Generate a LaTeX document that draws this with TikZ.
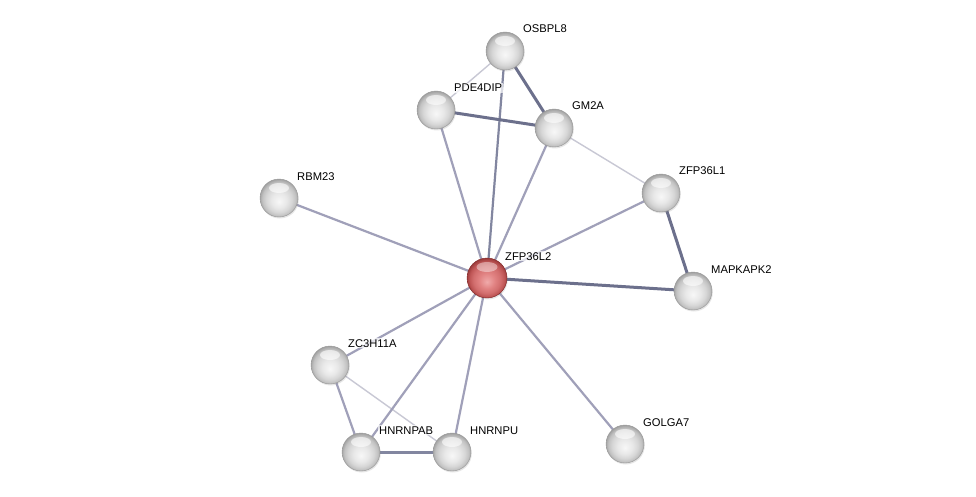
\documentclass[tikz,border=0pt]{standalone}
\usepackage{fontspec}
\setmainfont{Liberation Sans}
\usetikzlibrary{shadows}
\pgfdeclareradialshading{greyball}{\pgfpoint{0bp}{-5bp}}{color(0bp)=(white!97!black); color(10bp)=(white!91!black); color(17bp)=(white!84!black); color(22bp)=(white!76!black); color(26bp)=(white!62!black); color(30bp)=(white!55!black)}
\pgfdeclareradialshading{redball}{\pgfpoint{0bp}{-5bp}}{color(0bp)=(rgb,255:red,240;green,170;blue,170); color(10bp)=(rgb,255:red,225;green,130;blue,130); color(17bp)=(rgb,255:red,210;green,110;blue,110); color(22bp)=(rgb,255:red,190;green,85;blue,85); color(26bp)=(rgb,255:red,150;green,55;blue,55); color(30bp)=(rgb,255:red,140;green,50;blue,50)}
\tikzset{
  x=1pt, y=-1pt,
  prot/.style={circle, minimum size=38pt, inner sep=0pt, shading=greyball, draw=black!40, line width=0.4pt, drop shadow={opacity=0.2, shadow xshift=0.8pt, shadow yshift=-1.5pt}},
  hub/.style={prot, minimum size=40pt, shading=redball, draw={rgb,255:red,130;green,40;blue,40}},
  lab/.style={anchor=base west, font=\fontsize{11.2pt}{13pt}\selectfont, inner sep=1pt, fill=white, fill opacity=0.7, text opacity=1},
  edark/.style={line width=3pt, color={rgb,255:red,108;green,112;blue,140}},
  emed/.style={line width=2.2pt, color={rgb,255:red,160;green,160;blue,185}},
  elight/.style={line width=1.4pt, color={rgb,255:red,200;green,200;blue,212}},
}
\begin{document}
\begin{tikzpicture}
\useasboundingbox (0,0) rectangle (976,497);
\fill[white] (0,0) rectangle (976,497);
% node positions
\coordinate (OSBPL8) at (505,51);
\coordinate (PDE4DIP) at (436,110);
\coordinate (GM2A) at (554,128);
\coordinate (RBM23) at (279,198);
\coordinate (ZFP36L1) at (661,193);
\coordinate (ZFP36L2) at (487,278);
\coordinate (MAPKAPK2) at (693,291);
\coordinate (ZC3H11A) at (330,365);
\coordinate (HNRNPAB) at (361,452);
\coordinate (HNRNPU) at (452,452);
\coordinate (GOLGA7) at (625,444);
% edges
\draw[elight] (OSBPL8) -- (PDE4DIP);
\draw[edark] (OSBPL8) -- (GM2A);
\draw[emed, color={rgb,255:red,130;green,134;blue,160}] (OSBPL8) -- (ZFP36L2);
\draw[edark] (PDE4DIP) -- (GM2A);
\draw[emed] (PDE4DIP) -- (ZFP36L2);
\draw[emed] (GM2A) -- (ZFP36L2);
\draw[elight] (GM2A) -- (ZFP36L1);
\draw[emed] (ZFP36L1) -- (ZFP36L2);
\draw[edark] (ZFP36L1) -- (MAPKAPK2);
\draw[edark] (ZFP36L2) -- (MAPKAPK2);
\draw[emed] (RBM23) -- (ZFP36L2);
\draw[emed] (ZC3H11A) -- (ZFP36L2);
\draw[emed] (ZC3H11A) -- (HNRNPAB);
\draw[elight] (ZC3H11A) -- (HNRNPU);
\draw[emed] (HNRNPAB) -- (ZFP36L2);
\draw[emed] (HNRNPU) -- (ZFP36L2);
\draw[edark, color={rgb,255:red,130;green,134;blue,160}] (HNRNPAB) -- (HNRNPU);
\draw[emed] (GOLGA7) -- (ZFP36L2);
% spheres
\foreach \n in {OSBPL8,PDE4DIP,GM2A,RBM23,ZFP36L1,MAPKAPK2,ZC3H11A,HNRNPAB,HNRNPU,GOLGA7}{
  \node[prot] (n\n) at (\n) {};
  \fill[white, opacity=0.6] ([yshift=10pt]\n) ellipse (10pt and 5pt);
}
\node[hub] (nZFP36L2) at (ZFP36L2) {};
\fill[white, opacity=0.4] ([yshift=11pt]ZFP36L2) ellipse (10.5pt and 5pt);
% labels
\foreach \n in {OSBPL8,PDE4DIP,GM2A,RBM23,ZFP36L1,ZFP36L2,MAPKAPK2,ZC3H11A,HNRNPAB,HNRNPU,GOLGA7}{
  \node[lab] (l\n) at ([xshift=17pt,yshift=18pt]\n) {\n};
}
\end{tikzpicture}
\end{document}
